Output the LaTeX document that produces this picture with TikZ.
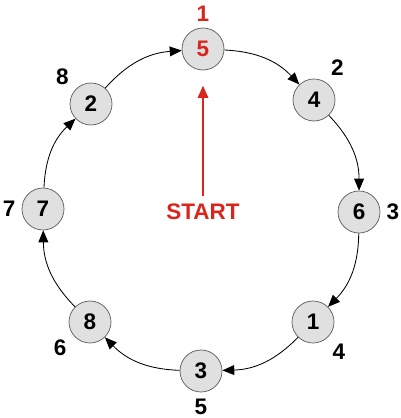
\documentclass[tikz,border=0pt]{standalone}
\usepackage{fontspec}
\setmainfont{Liberation Sans}
\usetikzlibrary{arrows.meta}
\definecolor{startred}{RGB}{218,37,29}
\definecolor{ballgray}{RGB}{224,224,224}
\begin{document}
\begin{tikzpicture}[x=0.025cm, y=-0.025cm,
      font=\bfseries\fontsize{16pt}{19pt}\selectfont,
      label distance=1pt,
      ball/.style={circle, draw=black!65, line width=0.5pt, fill=ballgray, minimum size=1.05cm, inner sep=0pt},
      hop/.style={line width=0.6pt, -{Triangle[length=8.5pt, width=7pt]}},
      kick/.style={draw=startred, line width=0.9pt, shorten >=11pt, shorten <=2pt, -{Triangle[length=8.5pt, width=7.5pt]}}]
      \useasboundingbox (0, 0) rectangle (400, 418);

      \begin{scope}[name prefix = pos-]
         \node[ball, text=startred, label={[text=startred]90:1}] (1) at (203, 49) {5};
         \node[ball, label={58:2}] (2) at (314, 100) {4};
         \node[ball, label={0:3}] (3) at (359, 212) {6};
         \node[ball, label={-50:4}] (4) at (313, 322) {1};
         \node[ball, label={-90:5}] (5) at (201, 371) {3};
         \node[ball, label={-145:6}] (6) at (90, 322) {8};
         \node[ball, label={180:7}] (7) at (43, 209) {7};
         \node[ball, label={140:8}] (8) at (91, 104) {2};
      \end{scope}

      \node[text=startred] (start) at (203, 212) {START};

      \begin{scope}
         \draw[hop] (pos-1) to[bend left=22] (pos-2);
         \draw[hop] (pos-2) to[bend left=22] (pos-3);
         \draw[hop] (pos-3) to[bend left=22] (pos-4);
         \draw[hop] (pos-4) to[bend left=22] (pos-5);
         \draw[hop] (pos-5) to[bend left=22] (pos-6);
         \draw[hop] (pos-6) to[bend left=22] (pos-7);
         \draw[hop] (pos-7) to[bend left=22] (pos-8);
         \draw[hop] (pos-8) to[bend left=22] (pos-1);
         \draw[kick, fill=startred] (start) -- (pos-1);
      \end{scope}
   \end{tikzpicture}
\end{document}
